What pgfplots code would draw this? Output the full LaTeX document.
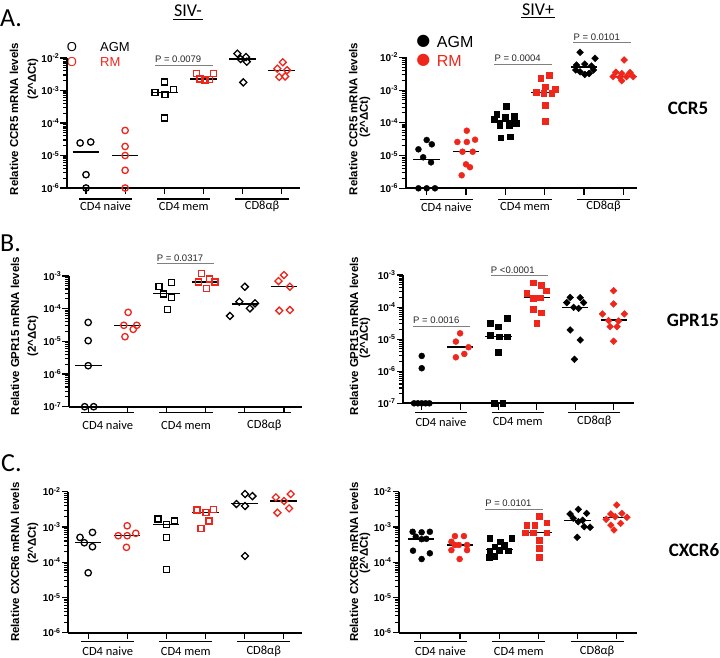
\documentclass[border=0pt]{standalone}
\usepackage{pgfplots}
\pgfplotsset{compat=1.18}
\usepackage{fontspec}
\setmainfont{Liberation Sans}
\newfontfamily\carl{Carlito}
\newfontfamily\dejavu{DejaVu Sans}
\definecolor{rmred}{RGB}{238,38,28}
\definecolor{pgray}{RGB}{128,128,128}

\pgfplotsset{
  myaxisbase/.style={
    scale only axis, clip=false,
    axis x line*=bottom, axis y line*=left,
    axis line style={line width=2pt, black},
    tick align=outside,
    major tick length=6.5pt, minor tick length=4pt,
    every tick/.append style={black, line width=1.1pt},
    xtick={0,1,2,3,4,5}, xticklabels={,,,,,},
    yticklabel style={font=\bfseries\fontsize{10}{10}\selectfont, inner sep=1pt},
  },
  mydecA/.style={ymin=1e-6, ymax=1e-2,
    ytick={1e-6,1e-5,1e-4,1e-3,1e-2},
    yticklabels={10\textsuperscript{-6},10\textsuperscript{-5},10\textsuperscript{-4},10\textsuperscript{-3},10\textsuperscript{-2}},
    minor ytick={2e-6,3e-6,4e-6,5e-6,6e-6,7e-6,8e-6,9e-6,2e-5,3e-5,4e-5,5e-5,6e-5,7e-5,8e-5,9e-5,2e-4,3e-4,4e-4,5e-4,6e-4,7e-4,8e-4,9e-4,2e-3,3e-3,4e-3,5e-3,6e-3,7e-3,8e-3,9e-3}},
  mydecB/.style={ymin=1e-7, ymax=1e-3,
    ytick={1e-7,1e-6,1e-5,1e-4,1e-3},
    yticklabels={10\textsuperscript{-7},10\textsuperscript{-6},10\textsuperscript{-5},10\textsuperscript{-4},10\textsuperscript{-3}},
    minor ytick={2e-7,3e-7,4e-7,5e-7,6e-7,7e-7,8e-7,9e-7,2e-6,3e-6,4e-6,5e-6,6e-6,7e-6,8e-6,9e-6,2e-5,3e-5,4e-5,5e-5,6e-5,7e-5,8e-5,9e-5,2e-4,3e-4,4e-4,5e-4,6e-4,7e-4,8e-4,9e-4}},
  mkoc/.style={only marks, mark=o, mark size=3.2, line width=1.3pt, forget plot},
  mkos/.style={only marks, mark=square, mark size=3.0, line width=1.3pt, forget plot},
  mkod/.style={only marks, mark=square, mark size=2.5, mark options={rotate=45}, line width=1.3pt, forget plot},
  mkfc/.style={only marks, mark=*, mark size=3, forget plot},
  mkfs/.style={only marks, mark=square*, mark size=2.8, forget plot},
  mkfd/.style={only marks, mark=square*, mark size=2.4, mark options={rotate=45}, forget plot},
  mkmed/.style={black, line width=1.5pt, mark=none, forget plot},
}

\newcommand{\grouplabels}[2]{%
  \draw[line width=1.2pt] ([yshift=-#2pt]axis cs:-0.18,#1) -- ([yshift=-#2pt]axis cs:1.18,#1);
  \draw[line width=1.2pt] ([yshift=-#2pt]axis cs:1.82,#1) -- ([yshift=-#2pt]axis cs:3.18,#1);
  \draw[line width=1.2pt] ([yshift=-#2pt]axis cs:3.82,#1) -- ([yshift=-#2pt]axis cs:5.18,#1);
  \node[font=\carl\fontsize{12.5}{13}\selectfont, inner sep=0pt] at ([yshift=-18.5pt]axis cs:0.5,#1) {CD4 naive};
  \node[font=\carl\fontsize{12.5}{13}\selectfont, inner sep=0pt] at ([yshift=-18.5pt]axis cs:2.5,#1) {CD4 mem};
  \node[font=\carl\fontsize{12.5}{13}\selectfont, inner sep=0pt] at ([yshift=-18.5pt]axis cs:4.5,#1) {CD8αβ};
}
\newcommand{\pvalbar}[4]{%
  \draw[pgray, line width=0.9pt] (axis cs:#1,#3) -- (axis cs:#2,#3);
  \node[anchor=south west, inner sep=0pt, text=black!85, font=\fontsize{9.5}{10}\selectfont] at ([yshift=2pt]axis cs:#1,#3) {#4};
}

\begin{document}
\begin{tikzpicture}
\path[use as bounding box] (0pt,0pt) rectangle (720pt,-658pt);

\begin{scope}[x=1pt,y=1pt]
\node[font=\carl\fontsize{26}{26}\selectfont, anchor=west, inner sep=0pt] at (0,-18.5) {A.};
\node[font=\carl\fontsize{26}{26}\selectfont, anchor=west, inner sep=0pt] at (0,-243) {B.};
\node[font=\carl\fontsize{26}{26}\selectfont, anchor=west, inner sep=0pt] at (1,-463) {C.};
\node[font=\carl\fontsize{18}{18}\selectfont, inner sep=0pt] at (188,-11) {SIV-};
\draw[line width=0.8pt] (173,-19) -- (203,-19);
\node[font=\carl\fontsize{18}{18}\selectfont, inner sep=0pt] at (538,-10) {SIV+};
\draw[line width=0.8pt] (521,-17) -- (555,-17);
\node[font=\carl\bfseries\fontsize{19}{19}\selectfont, inner sep=0pt] at (688,-108) {CCR5};
\node[font=\carl\bfseries\fontsize{19}{19}\selectfont, inner sep=0pt] at (693,-320) {GPR15};
\node[font=\carl\bfseries\fontsize{19}{19}\selectfont, inner sep=0pt] at (694,-550) {CXCR6};
\node[font=\fontsize{13}{13}\selectfont, inner sep=0pt] at (72,-46.7) {O};
\node[font=\fontsize{13}{13}\selectfont, inner sep=0pt, anchor=west] at (100,-46.7) {AGM};
\node[font=\fontsize{13}{13}\selectfont, inner sep=0pt, text=rmred] at (72,-61.7) {O};
\node[font=\fontsize{13}{13}\selectfont, inner sep=0pt, anchor=west, text=rmred] at (100,-61.7) {RM};
\node[font=\dejavu\fontsize{16}{16}\selectfont, inner sep=0pt] at (423.3,-41.7) {●};
\node[font=\fontsize{16}{16}\selectfont, inner sep=0pt, anchor=west] at (436.7,-41.7) {AGM};
\node[font=\dejavu\fontsize{16}{16}\selectfont, inner sep=0pt, text=rmred] at (423.3,-60.7) {●};
\node[font=\fontsize{16}{16}\selectfont, inner sep=0pt, anchor=west, text=rmred] at (436.7,-60.7) {RM};
\end{scope}

\begin{scope}[x=1pt,y=1pt]
\tikzset{ylab/.style={rotate=90, inner sep=0pt, font=\bfseries\fontsize{11.5}{12}\selectfont}}
\node[ylab] at (14,-119) {Relative CCR5 mRNA levels};
\node[ylab] at (33,-79) {(2\textasciicircum ΔCt)};
\node[ylab] at (353.3,-119) {Relative CCR5 mRNA levels};
\node[ylab] at (365,-117) {(2\textasciicircum ΔCt)};
\node[ylab] at (15,-336) {Relative GPR15 mRNA levels};
\node[ylab] at (33,-336) {(2\textasciicircum ΔCt)};
\node[ylab] at (354,-336) {Relative GPR15 mRNA levels};
\node[ylab] at (365,-338) {(2\textasciicircum ΔCt)};
\node[ylab] at (15,-562) {Relative CXCR6 mRNA levels};
\node[ylab] at (33,-543) {(2\textasciicircum ΔCt)};
\node[ylab] at (354,-562) {Relative CXCR6 mRNA levels};
\node[ylab] at (365,-553) {(2\textasciicircum ΔCt)};
\end{scope}

% ---------- A left ----------
\begin{axis}[myaxisbase, ymode=log, mydecA, anchor=south west, at={(67pt,-188pt)}, width=233pt, height=130pt, xmin=-0.486, xmax=5.47]
\addplot[mkoc, black] coordinates {(-0.15,2.43e-5) (0.12,2.6e-5) (0,2.57e-6) (0,1e-6)};
\addplot[mkoc, rmred] coordinates {(1,5.9e-5) (1,1.9e-5) (1,1.0e-5) (1,3.5e-6) (1,1e-6)};
\addplot[mkos, black] coordinates {(2.0,1.83e-3) (1.76,8.8e-4) (2.02,7.4e-4) (2.23,1.06e-3) (2.0,1.43e-4)};
\addplot[mkos, rmred] coordinates {(2.83,3.3e-3) (2.91,2.26e-3) (3.04,2.1e-3) (3.15,2.15e-3) (3.25,3.4e-3)};
\addplot[mkod, black] coordinates {(3.87,1.36e-2) (4.09,1.07e-2) (3.95,9.3e-3) (4.11,7.7e-3) (4.02,1.78e-3)};
\addplot[mkod, rmred] coordinates {(5.03,7.4e-3) (4.89,4.7e-3) (5.14,4.2e-3) (4.94,2.6e-3) (5.09,2.7e-3)};
\addplot[mkmed] coordinates {(-0.34,1.3e-5) (0.34,1.3e-5)};
\addplot[mkmed] coordinates {(0.66,1.0e-5) (1.34,1.0e-5)};
\addplot[mkmed] coordinates {(1.66,8.8e-4) (2.34,8.8e-4)};
\addplot[mkmed] coordinates {(2.66,2.3e-3) (3.34,2.3e-3)};
\addplot[mkmed] coordinates {(3.66,9.3e-3) (4.34,9.3e-3)};
\addplot[mkmed] coordinates {(4.66,4.2e-3) (5.34,4.2e-3)};
\pvalbar{1.76}{3.25}{6.1e-3}{P = 0.0079}
\grouplabels{1e-6}{11}
\end{axis}

% ---------- A right ----------
\begin{axis}[myaxisbase, ymode=log, mydecA, anchor=south west, at={(405.7pt,-188.3pt)}, width=231pt, height=131pt, xmin=-0.534, xmax=5.34]
\addplot[mkfc, black] coordinates {(-0.21,1.55e-5) (0,2.99e-5) (0.13,2.2e-5) (-0.09,8.85e-6) (0.11,6.2e-6) (-0.21,1e-6) (0,1e-6) (0.21,1e-6)};
\addplot[mkfc, rmred] coordinates {(1.02,5.74e-5) (0.78,2.6e-5) (1.02,2.6e-5) (1.23,3.05e-5) (0.91,1.31e-5) (1.17,1.31e-5) (1.0,5.4e-6) (1.10,4.4e-6) (0.89,2.5e-6)};
\addplot[mkfs, black] coordinates {(2.02,3.26e-4) (1.78,1.86e-4) (2.0,1.54e-4) (2.22,1.61e-4) (1.71,1.28e-4) (1.86,8.6e-5) (2.10,8.6e-5) (2.27,9.7e-5) (1.88,3.5e-5) (2.12,3.77e-5)};
\addplot[mkfs, rmred] coordinates {(3.12,2.88e-3) (2.90,2.34e-3) (3.02,1.27e-3) (3.26,1.08e-3) (2.78,8.5e-4) (2.97,8.0e-4) (3.18,7.9e-4) (3.01,3.42e-4) (3.01,1.13e-4)};
\addplot[mkfd, black] coordinates {(3.90,1.42e-2) (4.28,9.3e-3) (3.81,5.8e-3) (4.02,6.2e-3) (4.19,5.4e-3) (3.90,3.6e-3) (4.02,3.0e-3) (4.13,3.2e-3) (3.79,4.1e-3) (4.24,4.1e-3)};
\addplot[mkfd, rmred] coordinates {(5.02,8.3e-3) (4.81,3.5e-3) (5.17,3.4e-3) (4.96,3.2e-3) (4.74,2.56e-3) (4.91,2.45e-3) (5.08,2.56e-3) (5.25,2.56e-3) (4.96,1.93e-3)};
\addplot[mkmed] coordinates {(-0.34,7.7e-6) (0.34,7.7e-6)};
\addplot[mkmed] coordinates {(0.66,1.31e-5) (1.34,1.31e-5)};
\addplot[mkmed] coordinates {(1.66,1.13e-4) (2.34,1.13e-4)};
\addplot[mkmed] coordinates {(2.66,8.5e-4) (3.34,8.5e-4)};
\addplot[mkmed] coordinates {(3.66,5.0e-3) (4.34,5.0e-3)};
\addplot[mkmed] coordinates {(4.66,2.6e-3) (5.34,2.6e-3)};
\pvalbar{1.72}{3.18}{6.2e-3}{P = 0.0004}
\pvalbar{3.73}{5.19}{2.79e-2}{P = 0.0101}
\grouplabels{1e-6}{11}
\end{axis}

% ---------- B left ----------
\begin{axis}[myaxisbase, ymode=log, mydecB, anchor=south west, at={(69pt,-406.7pt)}, width=233pt, height=130.7pt, xmin=-0.49, xmax=5.46]
\addplot[mkoc, black] coordinates {(0,3.8e-5) (0,1.05e-5) (0,1.8e-6) (-0.09,1e-7) (0.14,1e-7)};
\addplot[mkoc, rmred] coordinates {(1.02,7.7e-5) (0.91,3.1e-5) (1.24,3.1e-5) (1.15,2.33e-5) (0.94,1.39e-5)};
\addplot[mkos, black] coordinates {(1.81,4.7e-4) (2.13,6.4e-4) (1.92,2.81e-4) (2.13,2.22e-4) (2.03,9.5e-5)};
\addplot[mkos, rmred] coordinates {(2.90,1.21e-3) (3.09,8.1e-4) (2.81,6.5e-4) (3.24,6.5e-4) (3.02,4.2e-4)};
\addplot[mkod, black] coordinates {(4.0,4.7e-4) (3.86,1.64e-4) (4.26,1.46e-4) (4.13,1.02e-4) (3.62,6.0e-5)};
\addplot[mkod, rmred] coordinates {(5.0,1.07e-3) (4.86,7.0e-4) (5.15,4.7e-4) (4.88,8.7e-5) (5.15,9.1e-5)};
\addplot[mkmed] coordinates {(-0.34,1.8e-6) (0.34,1.8e-6)};
\addplot[mkmed] coordinates {(0.66,3.1e-5) (1.34,3.1e-5)};
\addplot[mkmed] coordinates {(1.66,2.88e-4) (2.34,2.88e-4)};
\addplot[mkmed] coordinates {(2.66,6.5e-4) (3.34,6.5e-4)};
\addplot[mkmed] coordinates {(3.66,1.4e-4) (4.34,1.4e-4)};
\addplot[mkmed] coordinates {(4.66,4.7e-4) (5.34,4.7e-4)};
\pvalbar{1.75}{3.2}{2.45e-3}{P = 0.0317}
\grouplabels{1e-7}{6}
\end{axis}

% ---------- B right ----------
\begin{axis}[myaxisbase, ymode=log, mydecB, anchor=south west, at={(403.3pt,-403.3pt)}, width=231pt, height=128.3pt, xmin=-0.48, xmax=5.54]
\addplot[mkfc, black] coordinates {(0,3.0e-6) (0,1.24e-6) (-0.2,1e-7) (-0.1,1e-7) (0,1e-7) (0.1,1e-7) (0.2,1e-7)};
\addplot[mkfc, rmred] coordinates {(1.0,1.52e-5) (0.89,8.4e-6) (1.22,5.6e-6) (1.11,3.46e-6) (0.89,2.72e-6)};
\addplot[mkfs, black] coordinates {(1.78,3.1e-5) (2.0,2.45e-5) (2.22,4.5e-5) (1.78,1.35e-5) (2.02,1.2e-5) (2.22,1.2e-5) (2.0,3.9e-6) (1.89,1e-7) (2.11,1e-7)};
\addplot[mkfs, rmred] coordinates {(2.9,5.75e-4) (3.11,4.9e-4) (2.74,2.7e-4) (3.24,3.24e-4) (2.91,1.88e-4) (3.09,1.96e-4) (2.9,8.5e-5) (3.11,6.7e-5) (3.0,3.1e-5)};
\addplot[mkfd, black] coordinates {(3.87,2.0e-4) (4.13,1.96e-4) (3.78,1.38e-4) (4.22,1.38e-4) (3.96,9.8e-5) (4.09,9.1e-5) (3.87,1.94e-5) (4.13,9.4e-6) (3.98,2.36e-6)};
\addplot[mkfd, rmred] coordinates {(5.0,3.24e-4) (5.0,1.25e-4) (4.71,6.1e-5) (5.28,6.1e-5) (4.87,3.8e-5) (5.13,3.7e-5) (4.91,2.45e-5) (5.09,2.45e-5) (5.0,8.6e-6)};
\addplot[mkmed] coordinates {(0.66,5.7e-6) (1.34,5.7e-6)};
\addplot[mkmed] coordinates {(1.66,1.2e-5) (2.34,1.2e-5)};
\addplot[mkmed] coordinates {(2.66,2.0e-4) (3.34,2.0e-4)};
\addplot[mkmed] coordinates {(3.66,9.8e-5) (4.34,9.8e-5)};
\addplot[mkmed] coordinates {(4.66,3.9e-5) (5.34,3.9e-5)};
\pvalbar{-0.23}{1.26}{2.58e-5}{P = 0.0016}
\pvalbar{1.8}{3.29}{9.5e-4}{P <0.0001}
\grouplabels{1e-7}{9}
\end{axis}

% ---------- C left ----------
\begin{axis}[myaxisbase, ymode=log, mydecA, anchor=south west, at={(68.3pt,-632.7pt)}, width=233.7pt, height=141pt, xmin=-0.51, xmax=5.48]
\addplot[mkoc, black] coordinates {(-0.21,5.06e-4) (0.11,7.0e-4) (-0.10,3.57e-4) (0.11,2.75e-4) (0,5.0e-5)};
\addplot[mkoc, rmred] coordinates {(1.0,1.08e-3) (0.77,5.65e-4) (1.0,5.65e-4) (1.22,6.6e-4) (0.98,2.64e-4)};
\addplot[mkos, black] coordinates {(1.79,1.68e-3) (2.0,1.16e-3) (2.22,1.47e-3) (2.0,4.96e-4) (2.0,6.3e-5)};
\addplot[mkos, rmred] coordinates {(2.79,3.02e-3) (3.02,2.53e-3) (3.22,3.16e-3) (3.10,1.47e-3) (2.89,9.1e-4)};
\addplot[mkod, black] coordinates {(4.02,8.6e-3) (4.21,7.5e-3) (3.80,4.47e-3) (4.02,3.92e-3) (4.02,1.5e-4)};
\addplot[mkod, rmred] coordinates {(4.81,6.9e-3) (5.19,8.6e-3) (5.02,5.43e-3) (5.15,3.37e-3) (4.85,2.53e-3)};
\addplot[mkmed] coordinates {(-0.34,3.57e-4) (0.34,3.57e-4)};
\addplot[mkmed] coordinates {(0.66,5.65e-4) (1.34,5.65e-4)};
\addplot[mkmed] coordinates {(1.66,1.18e-3) (2.34,1.18e-3)};
\addplot[mkmed] coordinates {(2.66,2.6e-3) (3.34,2.6e-3)};
\addplot[mkmed] coordinates {(3.66,4.67e-3) (4.34,4.67e-3)};
\addplot[mkmed] coordinates {(4.66,5.43e-3) (5.34,5.43e-3)};
\grouplabels{1e-6}{9}
\end{axis}

% ---------- C right ----------
\begin{axis}[myaxisbase, ymode=log, mydecA, anchor=south west, at={(399.3pt,-632.7pt)}, width=237.4pt, height=141pt, xmin=-0.55, xmax=5.51]
\addplot[mkfc, black] coordinates {(-0.21,7.3e-4) (0.02,7.05e-4) (0.23,7.3e-4) (-0.13,5.3e-4) (0.14,4.6e-4) (0.02,4.5e-4) (-0.2,2.12e-4) (0.23,1.79e-4) (0.02,1.23e-4)};
\addplot[mkfc, rmred] coordinates {(0.87,5.5e-4) (1.10,5.5e-4) (0.78,3.8e-4) (0.97,3.08e-4) (1.18,3.08e-4) (0.87,3.08e-4) (0.78,2.2e-4) (1.18,2.2e-4) (0.99,1.23e-4)};
\addplot[mkfs, black] coordinates {(1.76,4.76e-4) (2.02,3.8e-4) (2.32,4.76e-4) (2.12,3.08e-4) (1.89,2.76e-4) (1.76,2.12e-4) (2.0,2.22e-4) (2.23,2.12e-4) (1.89,1.5e-4) (1.75,1.38e-4)};
\addplot[mkfs, rmred] coordinates {(3.02,2.05e-3) (2.70,1.14e-3) (3.21,1.32e-3) (2.91,1.14e-3) (2.66,6.9e-4) (2.87,6.9e-4) (3.21,6.9e-4) (3.02,4.27e-4) (3.02,2.48e-4) (3.02,1.38e-4)};
\addplot[mkfd, black] coordinates {(4.02,3.16e-3) (3.81,2.33e-3) (4.23,2.43e-3) (3.89,1.76e-3) (4.13,1.55e-3) (4.02,1.41e-3) (4.32,9.8e-4) (4.17,1.02e-3) (3.99,5.1e-4)};
\addplot[mkfd, rmred] coordinates {(5.0,4.2e-3) (4.85,2.33e-3) (5.13,2.43e-3) (4.73,1.65e-3) (4.96,1.95e-3) (5.26,1.88e-3) (4.85,1.13e-3) (5.10,1.26e-3) (4.93,8.2e-4)};
\addplot[mkmed] coordinates {(-0.34,4.55e-4) (0.34,4.55e-4)};
\addplot[mkmed] coordinates {(0.66,3.08e-4) (1.34,3.08e-4)};
\addplot[mkmed] coordinates {(1.66,2.32e-4) (2.34,2.32e-4)};
\addplot[mkmed] coordinates {(2.66,6.9e-4) (3.34,6.9e-4)};
\addplot[mkmed] coordinates {(3.66,1.54e-3) (4.34,1.54e-3)};
\addplot[mkmed] coordinates {(4.66,1.88e-3) (5.34,1.88e-3)};
\pvalbar{1.64}{3.13}{3.24e-3}{P = 0.0101}
\grouplabels{1e-6}{9}
\end{axis}
\end{tikzpicture}
\end{document}
